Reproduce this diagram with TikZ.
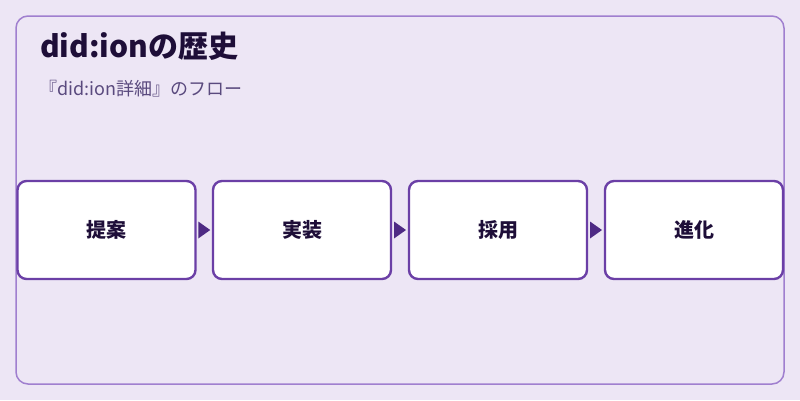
\documentclass[tikz,border=0pt]{standalone}
\usepackage{fontspec}
\setmainfont{Noto Sans CJK JP}
\definecolor{bg}{HTML}{EDE6F5}
\definecolor{frame}{HTML}{A07FCF}
\definecolor{boxline}{HTML}{6B3FA6}
\definecolor{arrowc}{HTML}{4E2A84}
\definecolor{titlec}{HTML}{1E0E38}
\definecolor{subc}{HTML}{5A4A7E}
\begin{document}
\begin{tikzpicture}[x=1pt,y=-1pt,
  stepbox/.style={draw=boxline,line width=2.4pt,fill=white,rounded corners=9pt,minimum width=178pt,minimum height=98pt,inner sep=0pt,font=\fontsize{20}{22}\selectfont\bfseries,text=titlec},
  tri/.style={fill=arrowc,draw=none}]
\useasboundingbox (0,0) rectangle (800,400);
\fill[bg] (0,0) rectangle (800,400);
\draw[frame,line width=1.5pt,rounded corners=12pt] (16,16) rectangle (784,384);
\node[anchor=base west,text=titlec,font=\fontsize{30}{34}\selectfont\bfseries,inner sep=0pt] (title) at (40,57) {did:ionの歴史};
\node[anchor=base west,text=subc,font=\fontsize{18}{20}\selectfont,inner sep=0pt] (sub) at (39,95) {『did:ion詳細』のフロー};
\node[stepbox] (a) at (106.5,230) {提案};
\node[stepbox] (b) at (302,230) {実装};
\node[stepbox] (c) at (498,230) {採用};
\node[stepbox] (d) at (694,230) {進化};
\foreach \p/\q in {a/b,b/c,c/d}{
  \path (\p.east) -- (\q.west) coordinate[midway] (m\p);
  \fill[arrowc] ([xshift=-6pt,yshift=-8.5pt]m\p) -- ([xshift=6pt]m\p) -- ([xshift=-6pt,yshift=8.5pt]m\p) -- cycle;
}
\end{tikzpicture}
\end{document}
